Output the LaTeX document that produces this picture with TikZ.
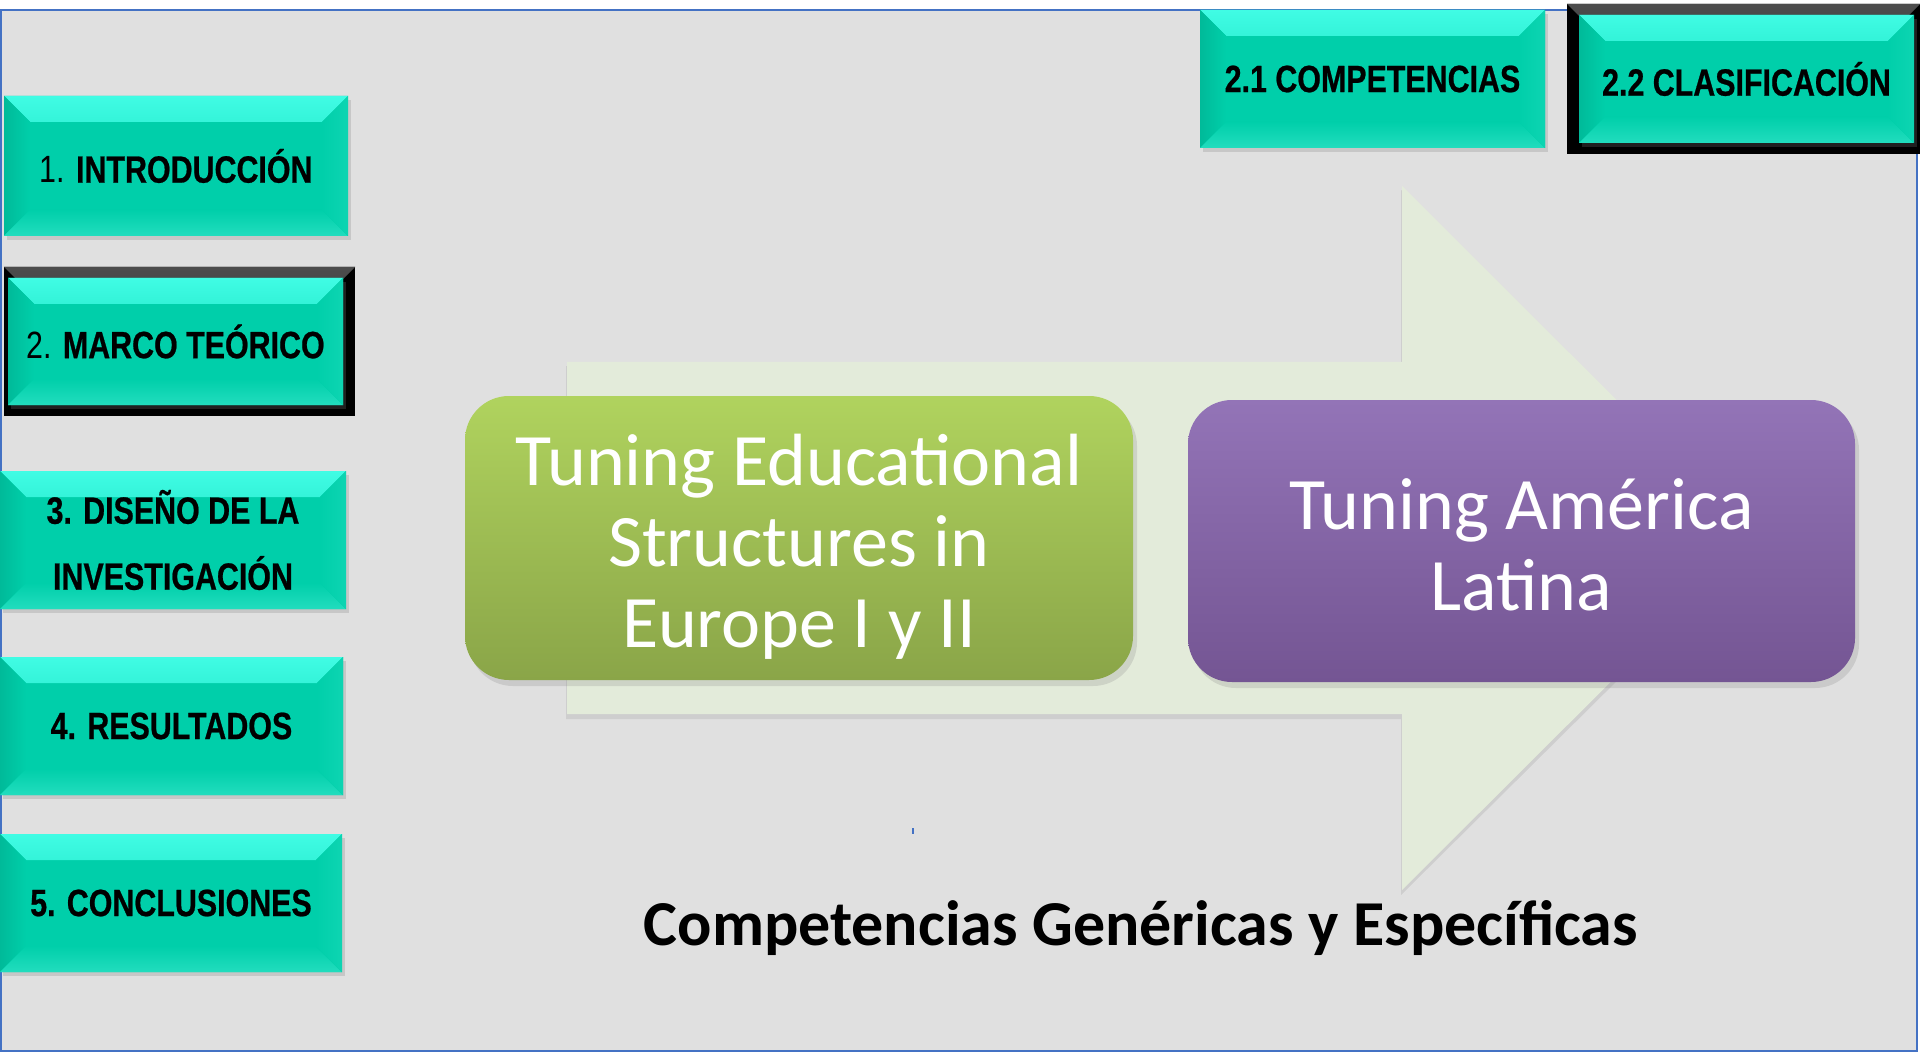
\documentclass[tikz,border=0pt]{standalone}
\usepackage{fontspec}
\setmainfont{Carlito}
\newfontfamily\btnfont[FakeStretch=0.8, BoldFeatures={FakeBold=0.6}]{Liberation Sans}
\usetikzlibrary{calc,shadows}
\definecolor{bg}{HTML}{E0E0E0}
\definecolor{frameblue}{HTML}{4472C4}
\definecolor{tealmain}{HTML}{00CFAA}
\definecolor{teallight}{HTML}{40FCE4}
\definecolor{tealdark}{HTML}{00BA99}
\definecolor{tealbot}{HTML}{22DDBE}
\definecolor{arrowfill}{HTML}{E3EBDA}
\definecolor{greentop}{HTML}{B0D35E}
\definecolor{greenbot}{HTML}{8AA548}
\definecolor{purptop}{HTML}{9374B7}
\definecolor{purpbot}{HTML}{745593}
\newcommand\padtop[2]{\raisebox{0pt}[\dimexpr\height+#1\relax][\depth]{\begin{tabular}{@{}c@{}}#2\end{tabular}}}
\tikzset{
  btn/.style={rectangle, fill=tealmain, inner sep=0pt, align=center, text=black,
    font=\btnfont\fontsize{19}{33}\selectfont,
    drop shadow={shadow xshift=1.5pt, shadow yshift=-2pt, opacity=0.25},
    path picture={
      \fill[top color=teallight, bottom color=tealmain]
        (path picture bounding box.north west) -- (path picture bounding box.north east)
        -- ([xshift=-13pt,yshift=-13pt]path picture bounding box.north east)
        -- ([xshift=13pt,yshift=-13pt]path picture bounding box.north west) -- cycle;
      \fill[left color=tealdark, right color=tealmain]
        (path picture bounding box.north west)
        -- ([xshift=13pt,yshift=-13pt]path picture bounding box.north west)
        -- ([xshift=13pt,yshift=13pt]path picture bounding box.south west)
        -- (path picture bounding box.south west) -- cycle;
      \fill[top color=tealmain, bottom color=tealbot]
        (path picture bounding box.south west)
        -- ([xshift=13pt,yshift=13pt]path picture bounding box.south west)
        -- ([xshift=-13pt,yshift=13pt]path picture bounding box.south east)
        -- (path picture bounding box.south east) -- cycle;
      \fill[left color=tealmain, right color=tealbot!40!tealmain]
        (path picture bounding box.north east)
        -- ([xshift=-13pt,yshift=-13pt]path picture bounding box.north east)
        -- ([xshift=-13pt,yshift=13pt]path picture bounding box.south east)
        -- (path picture bounding box.south east) -- cycle;
    }},
  frm/.style={rectangle, fill=black, inner sep=0pt,
    path picture={
      \fill[top color=black!70, bottom color=black!85]
        (path picture bounding box.north west) -- (path picture bounding box.north east)
        -- ([xshift=-6pt,yshift=-6pt]path picture bounding box.north east)
        -- ([xshift=6pt,yshift=-6pt]path picture bounding box.north west) -- cycle;
    }},
  tbox/.style={rectangle, rounded corners=22pt, inner sep=0pt, text=white,
    font=\fontsize{37}{40.5}\selectfont,
    drop shadow={shadow xshift=2pt, shadow yshift=-3pt, opacity=0.22}},
}
\begin{document}
\begin{tikzpicture}[x=0.5pt, y=-0.5pt]
\useasboundingbox (0,0) rectangle (1920,1053);
\fill[white] (0,0) rectangle (1920,1053);
\filldraw[fill=bg, draw=frameblue, line width=0.8pt] (1,10) rectangle (1917,1051);
% big arrow
\fill[black, opacity=0.08] (566,366) -- (1401,366) -- (1401,190) -- (1756,543) -- (1401,895) -- (1401,719) -- (566,719) -- cycle;
\fill[arrowfill] (567,362) -- (1402,362) -- (1402,186) -- (1755,538) -- (1402,890) -- (1402,714) -- (567,714) -- cycle;
% boxes
\node[tbox, top color=greentop, bottom color=greenbot, minimum width=334pt, minimum height=142pt] (eu) at (799,538)
  {\padtop{12pt}{Tuning Educational\\Structures in\\Europe I y II}};
\node[tbox, top color=purptop, bottom color=purpbot, minimum width=333.5pt, minimum height=141pt] (al) at (1521.5,541)
  {\padtop{13pt}{Tuning América\\Latina}};
\node[font=\bfseries\fontsize{32}{38}\selectfont, anchor=base] (cap) at (1141,945)
  {Competencias Genéricas y Específicas};
\fill[frameblue] (912,828) rectangle (914,834);
% left buttons
\node[btn, minimum width=172pt, minimum height=70pt] (b1) at (176,166) {1. \textbf{INTRODUCCIÓN}};
\node[frm, minimum width=175.5pt, minimum height=74.5pt] (b2f) at (179.5,341.5) {};
\node[btn, minimum width=167.5pt, minimum height=63.5pt] (b2) at (175.5,341.5) {2. \textbf{MARCO TEÓRICO}};
\node[btn, minimum width=173pt, minimum height=69pt] (b3) at (173,540) {\textbf{3. DISEÑO DE LA}\\\textbf{INVESTIGACIÓN}};
\node[btn, minimum width=171.5pt, minimum height=69pt] (b4) at (171.5,726) {\textbf{4. RESULTADOS}};
\node[btn, minimum width=171pt, minimum height=69pt] (b5) at (171,903) {\textbf{5. CONCLUSIONES}};
% top buttons
\node[btn, minimum width=172.5pt, minimum height=69pt] (b21) at (1372.5,79) {\textbf{2.1 COMPETENCIAS}};
\node[frm, minimum width=176.5pt, minimum height=75pt] (b22f) at (1743.5,79) {};
\node[btn, minimum width=167.5pt, minimum height=64pt] (b22) at (1746.5,79) {\textbf{2.2 CLASIFICACIÓN}};
\end{tikzpicture}
\end{document}
